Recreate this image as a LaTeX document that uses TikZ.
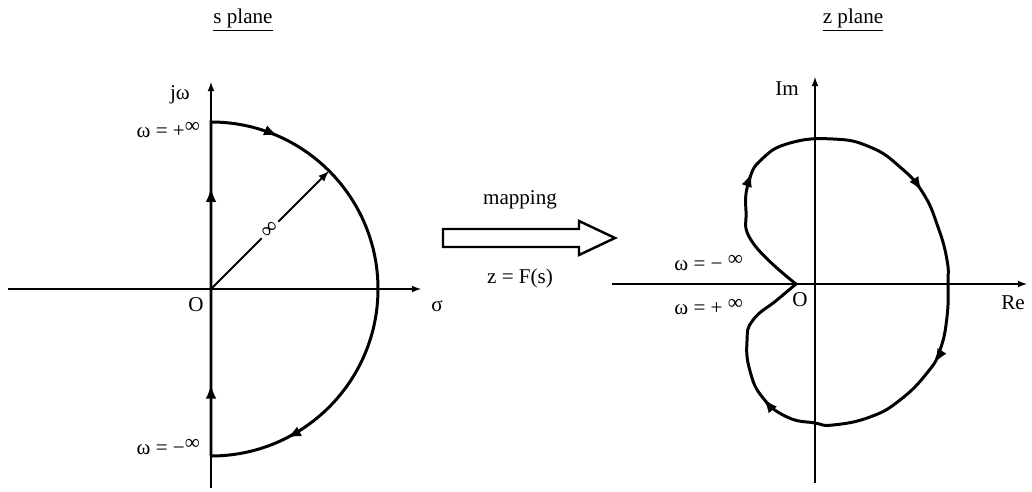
\documentclass[tikz,border=0pt]{standalone}
\usepackage{fontspec}
\setmainfont{Liberation Serif}
\usepackage{tikz}
\usetikzlibrary{calc,decorations.markings}
\tikzstyle{every picture}=[->,>=latex]
\tikzstyle{axis}=[line width=0.8pt]
\tikzstyle{contour}=[line width=1.7pt]
\tikzstyle{lbl}=[font=\fontsize{12}{14}\selectfont, inner sep=1pt]

\begin{document}
\begin{tikzpicture}[x=0.02cm,y=0.02cm]
    \useasboundingbox (0,0) rectangle (1032,491);

    % s plane axes
    \coordinate (sO) at (211,202);
    \coordinate (sW) at (8,202);
    \coordinate (sE) at (421,202);
    \coordinate (sS) at (211,3);
    \coordinate (sN) at (211,409);
    \coordinate (sTop) at (211,369);
    \coordinate (sBot) at (211,35);
    \coordinate (sR) at (329,320);
    \draw[axis] (sW) -- (sE);
    \draw[axis] (sS) -- (sN);

    % Nyquist contour: up the j-omega axis, then round the big half circle
    \draw[-,contour,postaction={decorate,decoration={markings,
        mark=at position 0.083 with {\arrow{latex}},
        mark=at position 0.312 with {\arrow{latex}},
        mark=at position 0.469 with {\arrow{latex}},
        mark=at position 0.908 with {\arrow{latex}}}}]
        (sBot) -- (sTop) arc[start angle=90, end angle=-90, radius=167];

    % radius of the half circle
    \draw[line width=1.1pt] (sO) -- (sR)
        node[midway,sloped,fill=white,inner sep=2pt,font=\fontsize{13}{14}\selectfont] (rinf) {∞};

    \node[lbl] (stitle) at (243,471) {\underline{s plane}};
    \node[lbl] (jw) at (180,396) {jω};
    \node[lbl,anchor=east] (wpos) at (202,361) {ω = +\raisebox{.5ex}{∞}};
    \node[lbl,anchor=east] (wneg) at (202,44) {ω = −\raisebox{.5ex}{∞}};
    \node[lbl] (sO_l) at (196,186) {O};
    \node[lbl] (sigma) at (437,185) {σ};

    % mapping arrow
    \draw[-,line width=1.4pt] (443,244) -- (579,244) -- (579,236) -- (615,253)
        -- (579,270) -- (579,262) -- (443,262) -- cycle;
    \node[lbl] (map) at (520,291) {mapping};
    \node[lbl] (fun) at (520,213) {z = F(s)};

    % z plane axes
    \coordinate (zO) at (815,207);
    \coordinate (zW) at (612,207);
    \coordinate (zE) at (1027,207);
    \coordinate (zS) at (815,8);
    \coordinate (zN) at (815,414);
    \draw[axis] (zW) -- (zE);
    \draw[axis] (zS) -- (zN);

    % image of the contour
    \draw[-,contour,postaction={decorate,decoration={markings,
        mark=at position 0.155 with {\arrow{latex}},
        mark=at position 0.39 with {\arrow{latex}},
        mark=at position 0.60 with {\arrow{latex}},
        mark=at position 0.835 with {\arrow{latex}}}}]
        plot[smooth,tension=0.8] coordinates {(796,207) (753,248)
        (746,280) (749,310) (762,332) (790,348) (833,352) (870,344)
        (900,324) (923,298) (938,264) (947,231) (948,208) (947,174) (940,141)
        (927,118) (900,91) (870,74) (833,66) (815,68) (787,74) (763,93)
        (750,120) (747,150) (753,171) (777,191) (796,207)};

    \node[lbl] (ztitle) at (853,471) {\underline{z plane}};
    \node[lbl] (im) at (787,402) {Im};
    \node[lbl] (re) at (1013,188) {Re};
    \node[lbl] (zO_l) at (800,191) {O};
    \node[lbl,anchor=east] (zneg) at (745,228) {ω = − \raisebox{.5ex}{∞}};
    \node[lbl,anchor=east] (zpos) at (745,184) {ω = + \raisebox{.5ex}{∞}};
\end{tikzpicture}
\end{document}
